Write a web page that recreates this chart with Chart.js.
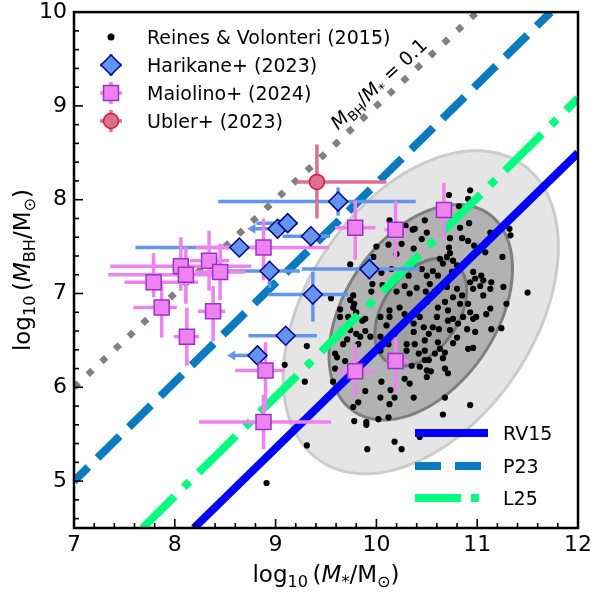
<!DOCTYPE html>
<html>
<head>
<meta charset="utf-8">
<script src="https://cdn.jsdelivr.net/npm/chart.js@4.4.1/dist/chart.umd.min.js"></script>
<style>
  html, body { margin: 0; padding: 0; background: #ffffff; }
  #wrap { width: 595px; height: 593px; }
</style>
</head>
<body>
<div id="wrap"><canvas id="bh-chart" width="595" height="593"></canvas></div>
<script>
// ─── Axis ticks ───────────────────────────────────────────────────────────────
const xTicks = [7, 8, 9, 10, 11, 12];
const yTicks = [5, 6, 7, 8, 9, 10];

// ─── Reines & Volonteri (2015) local AGN  [log M*, log MBH] ───────────────────
const rvDots = [
    [10.13,7.78],[10.29,7.72],[10.36,7.68],[10.38,7.69],[10.45,7.58],[10.50,7.65],[10.00,7.50],[10.12,7.52],
    [10.25,7.53],[9.97,7.39],[10.20,7.42],[9.74,7.31],[10.15,7.26],[10.05,7.22],[10.45,7.26],[10.50,7.19],
    [10.32,7.19],[9.96,7.10],[10.06,7.09],[9.95,7.02],[10.28,7.08],[10.40,7.06],[10.20,7.02],[10.33,7.00],
    [10.49,7.02],[9.55,6.95],[9.77,6.98],[9.64,6.83],[9.78,6.89],[9.64,6.75],[10.23,6.85],[10.28,6.78],
    [10.13,6.75],[10.40,6.78],[10.50,6.91],[9.72,6.75],
    [10.93,8.10],[10.72,8.05],[10.91,8.01],[10.82,7.93],[10.48,7.78],[10.83,7.70],[10.92,7.75],[11.13,7.65],
    [11.32,7.69],[11.33,7.62],[10.73,7.59],[10.85,7.59],[10.91,7.56],[10.97,7.51],[10.72,7.49],[10.73,7.43],
    [10.63,7.37],[10.70,7.39],[10.76,7.35],[10.66,7.32],[10.80,7.30],[11.25,7.39],[11.08,7.44],[10.56,7.24],
    [10.61,7.19],[10.75,7.23],[10.96,7.23],[11.04,7.19],[10.98,7.16],[11.06,7.14],[10.93,7.12],[11.03,7.08],
    [11.14,7.12],[10.96,7.05],[11.13,7.05],[11.06,6.98],[11.26,7.07],[11.50,7.01],[10.53,7.10],[10.58,7.02],
    [10.70,7.07],[10.80,7.05],[10.76,6.96],[10.85,6.98],[10.83,6.89],[10.68,6.91],[10.61,6.85],[10.71,6.82],
    [10.91,6.89],[10.93,6.80],[11.13,6.84],[11.29,6.89],[10.99,6.75],[11.09,6.78],[10.60,6.75],[10.86,6.75],
    [9.31,6.44],[9.09,6.24],[9.29,6.06],[9.67,6.46],[9.71,6.51],[9.61,6.32],[9.69,6.28],[9.59,6.20],
    [9.82,6.46],[9.84,6.54],[9.89,6.60],[9.94,6.54],[9.86,6.71],[9.80,6.57],[9.57,6.06],[9.89,5.96],
    [10.05,6.06],[9.82,5.84],[9.77,5.79],[10.04,5.89],[10.14,5.97],[10.18,5.89],[10.13,5.82],[10.28,6.09],
    [10.33,6.04],[10.37,5.89],[9.78,5.64],[9.90,5.63],[9.90,5.60],[10.02,5.66],[10.12,5.68],[9.31,5.38],
    [9.91,5.34],[10.18,5.42],[10.25,5.34],[10.04,6.54],[10.10,6.66],[10.04,6.39],[10.30,6.39],[10.35,6.23],
    [10.38,6.46],[10.42,6.36],[10.43,6.22],[10.50,6.18],[10.48,6.50],[10.47,6.64],[10.37,6.68],[10.43,6.75],
    [10.48,6.29],[10.30,6.46],[10.13,6.82],[10.37,6.59],[10.12,6.46],[10.18,6.57],[9.74,6.61],[9.59,6.36],
    [10.43,5.47],
    [10.71,6.71],[10.76,6.73],[10.81,6.68],[10.96,6.73],[11.14,6.62],[11.24,6.63],[10.90,6.62],[10.98,6.59],
    [10.52,6.57],[10.56,6.64],[10.62,6.62],[10.73,6.61],[10.80,6.53],[10.76,6.47],[10.48,6.39],[10.61,6.48],
    [10.63,6.41],[10.58,6.36],[10.68,6.37],[10.66,6.31],[10.91,6.41],[10.96,6.42],[10.52,6.29],[10.54,6.17],
    [10.50,6.11],[10.68,6.20],[10.71,6.15],[10.68,5.89],[10.93,5.81],[10.66,5.71],
    [9.74,6.93],[9.77,6.85],[9.80,6.80],[9.89,6.73],[9.66,6.61],[10.04,6.75],[8.91,4.98],[10.37,7.48]
];

// 1-sigma ellipse of the local sample: centre and two conjugate half-axes (data units)
const ellCentre = [10.44, 6.80];
const ellU      = [0.455, 0.232];
const ellV      = [0.0, 0.525];
const ellSigmas = [3, 2, 1];

// ─── Harikane+ (2023) ─────────────────────────────────────────────────────────
const hkX     = [8.64, 9.02, 9.12, 9.35, 9.62, 8.94, 9.37, 9.93, 9.10, 8.82];
const hkY     = [7.49, 7.69, 7.75, 7.61, 7.98, 7.24, 6.99, 7.26, 6.55, 6.34];
const hkXLo   = [1.03, 0.00, 0.31, 0.28, 1.19, 0.47, 0.44, 0.67, 0.37, 0.00];
const hkXHi   = [0.30, 0.00, 0.10, 0.19, 0.77, 0.30, 0.35, 0.50, 0.31, 0.00];
const hkYLo   = [0.00, 0.10, 0.00, 0.10, 0.15, 0.18, 0.29, 0.11, 0.00, 0.00];
const hkYHi   = [0.00, 0.10, 0.00, 0.10, 0.15, 0.11, 0.24, 0.14, 0.00, 0.00];
const hkUpLim = [false, true, false, false, false, false, false, false, false, true];
const hkArrowLen = 0.3;

// ─── Maiolino+ (2024) ─────────────────────────────────────────────────────────
const mlX   = [7.79, 8.06, 8.11, 8.34, 8.45, 8.88, 7.87, 8.38, 8.12, 8.90, 8.88, 10.67, 9.79, 10.19, 9.79, 10.19];
const mlY   = [7.12, 7.29, 7.20, 7.35, 7.23, 7.49, 6.85, 6.81, 6.54, 6.18, 5.63, 7.89, 7.70, 7.68, 6.17, 6.28];
const mlXLo = [0.29, 0.70, 0.77, 0.19, 0.25, 0.67, 0.28, 0.15, 0.13, 0.30, 0.64, 0.08, 0.20, 0.11, 0.18, 0.09];
const mlXHi = [0.44, 0.70, 0.34, 0.20, 0.25, 0.65, 0.15, 0.12, 0.12, 0.19, 0.67, 0.08, 0.20, 0.12, 0.20, 0.13];
const mlYLo = [0.16, 0.26, 0.31, 0.32, 0.30, 0.35, 0.32, 0.32, 0.31, 0.43, 0.29, 0.30, 0.34, 0.31, 0.27, 0.32];
const mlYHi = [0.31, 0.31, 0.30, 0.32, 0.30, 0.31, 0.26, 0.27, 0.31, 0.30, 0.29, 0.29, 0.29, 0.31, 0.29, 0.25];

// ─── Ubler+ (2023) ────────────────────────────────────────────────────────────
const ubX   = [9.41];
const ubY   = [8.19];
const ubXLo = [0.20];
const ubXHi = [0.69];
const ubYLo = [0.39];
const ubYHi = [0.40];

// ─── Relations (end points) ──────────────────────────────────────────────────
const ratioX = [7, 11];       const ratioY = [6, 10];      // M_BH/M* = 0.1
const p23X   = [7, 11.73];    const p23Y   = [5.0, 10];
const l25X   = [7.68, 12];    const l25Y   = [4.5, 9.08];
const rv15X  = [8.19, 12];    const rv15Y  = [4.5, 8.5];

const legendTop    = ['Reines & Volonteri (2015)', 'Harikane+ (2023)', 'Maiolino+ (2024)', 'Ubler+ (2023)'];
const legendBottom = ['RV15', 'P23', 'L25'];

// ─── Styles ───────────────────────────────────────────────────────────────────
const FONT = 'DejaVu Sans';
const C_HK = '#6495ed', C_HK_EDGE = '#00008b';
const C_ML = '#ee82ee', C_ML_EDGE = '#9932cc';
const C_UB = '#db7093', C_UB_EDGE = '#dc143c';
const C_P23 = '#0a7bbf', C_L25 = '#00ff7f', C_RV15 = '#0000ff', C_RATIO = '#808080';
const ELL_FILL = ['#e5e5e5', '#b2b2b2', '#a0a0a0'];
const ELL_EDGE = ['#cccccc', '#7f7f7f', '#777777'];

const pts  = (xs, ys) => xs.map((x, i) => ({ x, y: ys[i] }));
const HK_INDEX = 5;

// ─── Helpers ──────────────────────────────────────────────────────────────────
const fontFor = (kind, size) => {
    const sub = kind.includes('s');
    const ital = kind.includes('i');
    return `${ital ? 'italic ' : ''}${(sub ? size * 0.7 : size).toFixed(1)}px "${FONT}"`;
};

// draw a small mathtext-like run: [[text, kind]] with kind n / i / s / si
const drawMath = (ctx, parts, size, x, y, align) => {
    let w = 0;
    parts.forEach(([t, k]) => { ctx.font = fontFor(k, size); w += ctx.measureText(t).width; });
    let cx = align === 'center' ? x - w / 2 : x;
    parts.forEach(([t, k]) => {
        ctx.font = fontFor(k, size);
        const dy = k.includes('s') ? size * 0.22 : 0;
        ctx.fillText(t, cx, y + dy);
        cx += ctx.measureText(t).width;
    });
};

const drawMarker = (ctx, style, x, y, r, fill, edge, lw) => {
    ctx.beginPath();
    if (style === 'diamond') {
        ctx.moveTo(x - r, y); ctx.lineTo(x, y - r); ctx.lineTo(x + r, y); ctx.lineTo(x, y + r);
        ctx.closePath();
    } else if (style === 'square') {
        ctx.rect(x - r, y - r, 2 * r, 2 * r);
    } else {
        ctx.arc(x, y, r, 0, Math.PI * 2);
    }
    ctx.fillStyle = fill;
    ctx.fill();
    if (lw) { ctx.lineWidth = lw; ctx.strokeStyle = edge; ctx.stroke(); }
};

const line = (ctx, x1, y1, x2, y2) => {
    ctx.beginPath(); ctx.moveTo(x1, y1); ctx.lineTo(x2, y2); ctx.stroke();
};

const drawErrorBars = (ctx, xs, ys, X, Y, xLo, xHi, yLo, yHi, upLim, color) => {
    ctx.save();
    ctx.strokeStyle = color;
    ctx.fillStyle = color;
    ctx.lineWidth = 3.5;
    ctx.lineCap = 'butt';
    X.forEach((x, i) => {
        const px = xs.getPixelForValue(x), py = ys.getPixelForValue(Y[i]);
        if (xLo[i] || xHi[i]) line(ctx, xs.getPixelForValue(x - xLo[i]), py, xs.getPixelForValue(x + xHi[i]), py);
        if (yLo[i] || yHi[i]) line(ctx, px, ys.getPixelForValue(Y[i] - yLo[i]), px, ys.getPixelForValue(Y[i] + yHi[i]));
        if (upLim && upLim[i]) {
            const tip = xs.getPixelForValue(x - hkArrowLen);
            line(ctx, px, py, tip + 6, py);
            ctx.beginPath();
            ctx.moveTo(tip, py); ctx.lineTo(tip + 8, py - 5); ctx.lineTo(tip + 8, py + 5);
            ctx.closePath(); ctx.fill();
        }
    });
    ctx.restore();
};

// ─── Custom drawing layer ─────────────────────────────────────────────────────
const paperLayer = {
    id: 'paperLayer',
    beforeDatasetsDraw(chart) {
        const { ctx, chartArea: a, scales: { x: xs, y: ys } } = chart;
        ctx.save();
        ctx.beginPath(); ctx.rect(a.left, a.top, a.right - a.left, a.bottom - a.top); ctx.clip();
        ellSigmas.forEach((k, j) => {
            ctx.beginPath();
            for (let i = 0; i <= 180; i++) {
                const t = i / 180 * Math.PI * 2;
                const dx = k * (ellU[0] * Math.cos(t) + ellV[0] * Math.sin(t));
                const dy = k * (ellU[1] * Math.cos(t) + ellV[1] * Math.sin(t));
                const px = xs.getPixelForValue(ellCentre[0] + dx);
                const py = ys.getPixelForValue(ellCentre[1] + dy);
                if (i) ctx.lineTo(px, py); else ctx.moveTo(px, py);
            }
            ctx.closePath();
            ctx.fillStyle = ELL_FILL[j];
            ctx.fill();
            ctx.lineWidth = 3;
            ctx.strokeStyle = ELL_EDGE[j];
            ctx.stroke();
        });
        ctx.restore();
    },
    beforeDatasetDraw(chart, args) {
        if (args.index !== HK_INDEX) return;
        const { ctx, scales: { x: xs, y: ys } } = chart;
        drawErrorBars(ctx, xs, ys, hkX, hkY, hkXLo, hkXHi, hkYLo, hkYHi, hkUpLim, C_HK);
        drawErrorBars(ctx, xs, ys, mlX, mlY, mlXLo, mlXHi, mlYLo, mlYHi, null, C_ML);
        drawErrorBars(ctx, xs, ys, ubX, ubY, ubXLo, ubXHi, ubYLo, ubYHi, null, C_UB);
    },
    afterDraw(chart) {
        const { ctx, chartArea: a, scales: { x: xs, y: ys } } = chart;
        ctx.save();

        // frame
        ctx.strokeStyle = '#000';
        ctx.lineWidth = 2.5;
        ctx.strokeRect(a.left, a.top, a.right - a.left, a.bottom - a.top);

        // inward ticks, minor every 0.2
        ctx.lineWidth = 1.6;
        for (let v = 7; v <= 12.0001; v += 0.2) {
            const major = Math.abs(v - Math.round(v)) < 1e-6;
            const px = xs.getPixelForValue(v);
            line(ctx, px, a.bottom, px, a.bottom - (major ? 9 : 5));
        }
        for (let v = 4.6; v <= 10.0001; v += 0.2) {
            const major = Math.abs(v - Math.round(v)) < 1e-6;
            const py = ys.getPixelForValue(v);
            line(ctx, a.left, py, a.left + (major ? 9 : 5), py);
        }

        ctx.fillStyle = '#000';
        ctx.textBaseline = 'alphabetic';

        // axis titles
        drawMath(ctx, [['log', 'n'], ['10', 's'], ['\u2009(', 'n'], ['M', 'i'], ['*', 's'],
            ['/M', 'n'], ['\u2299', 's'], [')', 'n']], 23, (a.left + a.right) / 2, 582, 'center');
        ctx.save();
        ctx.translate(30, (a.top + a.bottom) / 2);
        ctx.rotate(-Math.PI / 2);
        drawMath(ctx, [['log', 'n'], ['10', 's'], ['\u2009(', 'n'], ['M', 'i'], ['BH', 's'],
            ['/M', 'n'], ['\u2299', 's'], [')', 'n']], 23, 0, 0, 'center');
        ctx.restore();

        // ratio annotation along the dotted line
        const ang = Math.atan2(ys.getPixelForValue(ratioY[0]) - ys.getPixelForValue(ratioY[1]),
                               xs.getPixelForValue(ratioX[1]) - xs.getPixelForValue(ratioX[0]));
        ctx.save();
        ctx.translate(xs.getPixelForValue(10.02), ys.getPixelForValue(9.24));
        ctx.rotate(-ang);
        drawMath(ctx, [['M', 'i'], ['BH', 's'], ['/', 'n'], ['M', 'i'], ['*', 's'], [' = 0.1', 'n']], 19, 0, 7, 'center');
        ctx.restore();

        // top-left legend
        const lx = 111, tx = 147, rows = [37, 65, 93, 121];
        ctx.font = `19px "${FONT}"`;
        legendTop.forEach((t, i) => ctx.fillText(t, tx, rows[i] + 7));
        drawMarker(ctx, 'circle', lx, rows[0], 3.5, '#000', '#000', 0);
        const cross = (y, col) => {
            ctx.strokeStyle = col; ctx.lineWidth = 3.5;
            line(ctx, lx - 11, y, lx + 11, y); line(ctx, lx, y - 11, lx, y + 11);
        };
        cross(rows[1], C_HK); drawMarker(ctx, 'diamond', lx, rows[1], 10, C_HK, C_HK_EDGE, 1.5);
        cross(rows[2], C_ML); drawMarker(ctx, 'square', lx, rows[2], 7.5, C_ML, C_ML_EDGE, 1.5);
        cross(rows[3], C_UB); drawMarker(ctx, 'circle', lx, rows[3], 7.5, C_UB, C_UB_EDGE, 1.5);

        // bottom-right legend
        const bx0 = 415, bx1 = 488, btx = 503, brows = [433, 466, 498];
        ctx.lineWidth = 8;
        ctx.lineCap = 'butt';
        [[C_RV15, []], [C_P23, [26, 14]], [C_L25, [46, 10, 8, 10]]].forEach(([c, d], i) => {
            ctx.strokeStyle = c; ctx.setLineDash(d);
            line(ctx, bx0, brows[i], bx1, brows[i]);
        });
        ctx.setLineDash([]);
        ctx.fillStyle = '#000';
        ctx.font = `19px "${FONT}"`;
        legendBottom.forEach((t, i) => ctx.fillText(t, btx, brows[i] + 7));

        ctx.restore();
    }
};

// ─── Chart ────────────────────────────────────────────────────────────────────
const relation = (xs, ys, color, width, dash, offset, order) => ({
    type: 'scatter',
    data: pts(xs, ys),
    showLine: true,
    borderColor: color,
    borderWidth: width,
    borderDash: dash,
    borderDashOffset: offset,
    borderCapStyle: 'butt',
    pointRadius: 0,
    fill: false,
    clip: 0,
    order
});

new Chart(document.getElementById('bh-chart'), {
    type: 'scatter',
    data: {
        datasets: [
            { data: rvDots.map(([x, y]) => ({ x, y })), pointRadius: 3.1, backgroundColor: '#000',
              borderWidth: 0, order: 10 },
            relation(ratioX, ratioY, C_RATIO, 6.5, [6.5, 12.2], 0, 9),
            relation(p23X, p23Y, C_P23, 8, [31, 13], 11, 8),
            relation(l25X, l25Y, C_L25, 8, [52, 13, 8, 13], 7, 7),
            relation(rv15X, rv15Y, C_RV15, 8, [], 0, 6),
            { data: pts(hkX, hkY), pointStyle: 'rectRot', pointRadius: 9.5, backgroundColor: C_HK,
              borderColor: C_HK_EDGE, borderWidth: 1.5, order: 3 },
            { data: pts(mlX, mlY), pointStyle: 'rect', pointRadius: 10.6, backgroundColor: C_ML,
              borderColor: C_ML_EDGE, borderWidth: 1.5, order: 2 },
            { data: pts(ubX, ubY), pointStyle: 'circle', pointRadius: 7.5, backgroundColor: C_UB,
              borderColor: C_UB_EDGE, borderWidth: 1.5, order: 1 }
        ]
    },
    options: {
        responsive: false,
        animation: false,
        devicePixelRatio: 1,
        layout: { padding: { top: 11, right: 17, left: 0, bottom: 0 } },
        plugins: { legend: { display: false }, tooltip: { enabled: false } },
        scales: {
            x: {
                type: 'linear', min: 7, max: 12,
                afterBuildTicks: s => { s.ticks = xTicks.map(value => ({ value })); },
                afterFit: s => { s.height = 65; s.paddingLeft = 0; s.paddingRight = 0; },
                ticks: { color: '#000', padding: 6, maxRotation: 0, font: { family: FONT, size: 22, lineHeight: 1 } },
                grid: { display: false, drawTicks: false },
                border: { display: false }
            },
            y: {
                type: 'linear', min: 4.5, max: 10,
                afterBuildTicks: s => { s.ticks = yTicks.map(value => ({ value })); },
                afterFit: s => { s.width = 74; s.paddingTop = 0; s.paddingBottom = 0; },
                ticks: { color: '#000', padding: 7, font: { family: FONT, size: 22, lineHeight: 1 } },
                grid: { display: false, drawTicks: false },
                border: { display: false }
            }
        }
    },
    plugins: [paperLayer]
});
</script>
</body>
</html>
